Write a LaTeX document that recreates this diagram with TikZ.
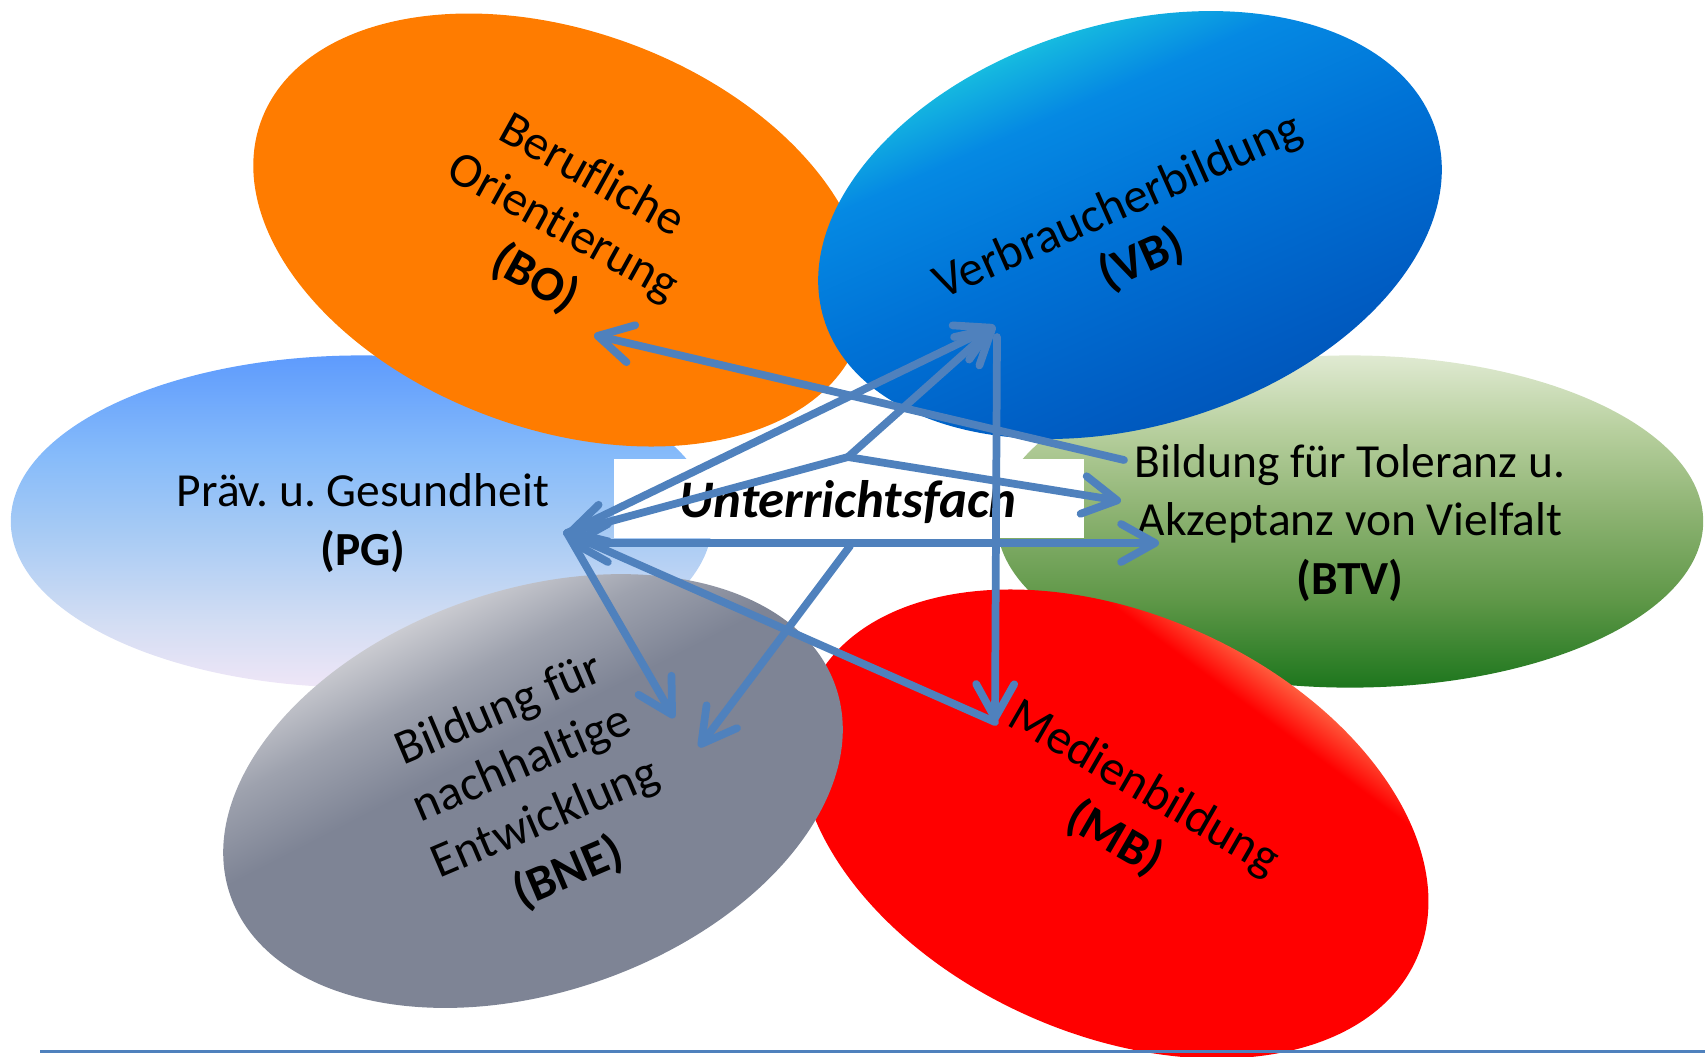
\documentclass[tikz,border=0pt]{standalone}
\usepackage{fontspec}
\setmainfont{Carlito}[Ligatures=NoCommon]
\usetikzlibrary{arrows.meta}
\frenchspacing
\definecolor{linkblue}{HTML}{4F81BD}
\definecolor{boFill}{HTML}{FF7C00}
\definecolor{pgA}{HTML}{EFE6F7}
\definecolor{pgB}{HTML}{D2DDF3}
\definecolor{pgC}{HTML}{A8CBF4}
\definecolor{pgD}{HTML}{86BBFA}
\definecolor{pgE}{HTML}{5E9BFD}
\definecolor{btA}{HTML}{1D761D}
\definecolor{btB}{HTML}{5E9747}
\definecolor{btC}{HTML}{8FB474}
\definecolor{btD}{HTML}{B8D09F}
\definecolor{btE}{HTML}{E0EAD2}
\definecolor{vbA}{HTML}{0050B2}
\definecolor{vbB}{HTML}{005CC2}
\definecolor{vbC}{HTML}{0072D6}
\definecolor{vbD}{HTML}{0589E3}
\definecolor{vbE}{HTML}{14B5E0}
\definecolor{vbF}{HTML}{24DAE0}
\definecolor{mbA}{HTML}{FF0000}
\definecolor{mbB}{HTML}{FF5A3C}
\definecolor{mbC}{HTML}{FFBB88}
\definecolor{bnA}{HTML}{7E8495}
\definecolor{bnB}{HTML}{9EA2AE}
\definecolor{bnC}{HTML}{C8C9CF}
\definecolor{bnD}{HTML}{E8E8E9}
\pgfdeclareverticalshading{pgshade}{100bp}{color(0bp)=(pgA); color(25bp)=(pgA); color(35bp)=(pgB); color(48bp)=(pgC); color(60bp)=(pgD); color(75bp)=(pgE); color(100bp)=(pgE)}
\pgfdeclareverticalshading{btshade}{100bp}{color(0bp)=(btA); color(25bp)=(btA); color(38bp)=(btB); color(52bp)=(btC); color(64bp)=(btD); color(75bp)=(btE); color(100bp)=(btE)}
\pgfdeclareverticalshading{vbshade}{100bp}{color(0bp)=(vbA); color(25bp)=(vbA); color(35bp)=(vbB); color(50bp)=(vbC); color(62bp)=(vbD); color(68bp)=(vbE); color(72bp)=(vbF); color(100bp)=(vbF)}
\pgfdeclareverticalshading{mbshade}{100bp}{color(0bp)=(mbA); color(64bp)=(mbA); color(67.5bp)=(mbB); color(70.5bp)=(mbC); color(100bp)=(mbC)}
\pgfdeclareverticalshading{bnshade}{100bp}{color(0bp)=(bnA); color(55bp)=(bnA); color(62bp)=(bnB); color(68bp)=(bnC); color(72bp)=(bnD); color(100bp)=(bnD)}
\begin{document}
\begin{tikzpicture}[x=0.01cm,y=-0.01cm,
  hlbl/.style={font=\fontsize{13.5}{16.6}\selectfont, align=center, inner sep=0pt, text=black},
  rlbl/.style={font=\fontsize{14}{16.8}\selectfont, align=center, inner sep=0pt, text=black},
  arr/.style={draw=linkblue, line width=2.2pt, line cap=round, line join=round},
  >={Straight Barb[round,length=3.4mm,width=3.8mm]}]
\useasboundingbox (0,0) rectangle (1705,1056);
% petals
\shade[shading=pgshade] (361.5,521.5) ellipse [x radius=3.505cm, y radius=1.66cm];
\shade[shading=btshade] (1350,521.5) ellipse [x radius=3.53cm, y radius=1.66cm];
\fill[boFill, rotate around={-20:(560,230)}] (560,230) ellipse [x radius=3.18cm, y radius=1.99cm];
\shade[shading=vbshade, shading angle=24, rotate around={17:(1130,225)}] (1130,225) ellipse [x radius=3.2cm, y radius=2.01cm];
\shade[shading=mbshade, shading angle=-36.6, rotate around={-24:(1114,824)}] (1114,824) ellipse [x radius=3.31cm, y radius=2.1cm];
\shade[shading=bnshade, shading angle=27.2, rotate around={19:(533,791)}] (533,791) ellipse [x radius=3.2cm, y radius=2.01cm];
% centre box
\node[fill=white, minimum width=4.7cm, minimum height=0.79cm, inner sep=0pt] (box) at (849,498.5) {};
\node[font=\fontsize{15}{18}\selectfont\bfseries\itshape, inner sep=0pt] (uf) at (848,502) {Unterrichtsfach};
% labels
\node[rlbl, rotate=-29] (tBO) at (563,228) {Berufliche\\Orientierung\\\textbf{(BO)}};
\node[rlbl, rotate=24] (tVB) at (1130,234) {Verbraucherbildung\\\textbf{(VB)}};
\node[hlbl] (tPG) at (363,523) {Präv. u. Gesundheit\\\textbf{(PG)}};
\node[hlbl] (tBTV) at (1350,523) {Bildung für Toleranz u.\\Akzeptanz von Vielfalt\\\textbf{(BTV)}};
\node[rlbl, rotate=-30] (tMB) at (1129,814) {Medienbildung\\\textbf{(MB)}};
\node[rlbl, rotate=23] (tBNE) at (534,792) {Bildung für\\nachhaltige\\Entwicklung\\\textbf{(BNE)}};
% connector points
\coordinate (P) at (567,533);
\coordinate (Ph) at (570,543);
\coordinate (C1) at (848,457);
\coordinate (C2) at (850,546);
\coordinate (V) at (995,326);
\coordinate (Vt) at (997,337);
\coordinate (M) at (995,722);
\coordinate (BOt) at (594,335);
\coordinate (BTVs) at (1124,460);
\coordinate (B1) at (1121,501);
\coordinate (B2) at (1159,543);
\coordinate (N1) at (674,718);
\coordinate (N2) at (699,747);
\draw[arr,->] (BTVs) -- (BOt);
\draw[arr,->] (P) -- (V);
\draw[arr,->] (C1) -- (V);
\draw[arr,->] (C1) -- (B1);
\draw[arr,->] (C1) -- (P);
\draw[arr,<->] (Ph) -- (B2);
\draw[arr,->] (P) -- (N1);
\draw[arr,->] (C2) -- (N2);
\draw[arr,->] (Vt) -- (M);
\draw[arr] (P) -- (M);
% bottom rule
\coordinate (L1) at (40,1051.5);
\coordinate (L2) at (1705,1051.5);
\draw[linkblue, line width=0.7pt] (L1) -- (L2);
\end{tikzpicture}
\end{document}
